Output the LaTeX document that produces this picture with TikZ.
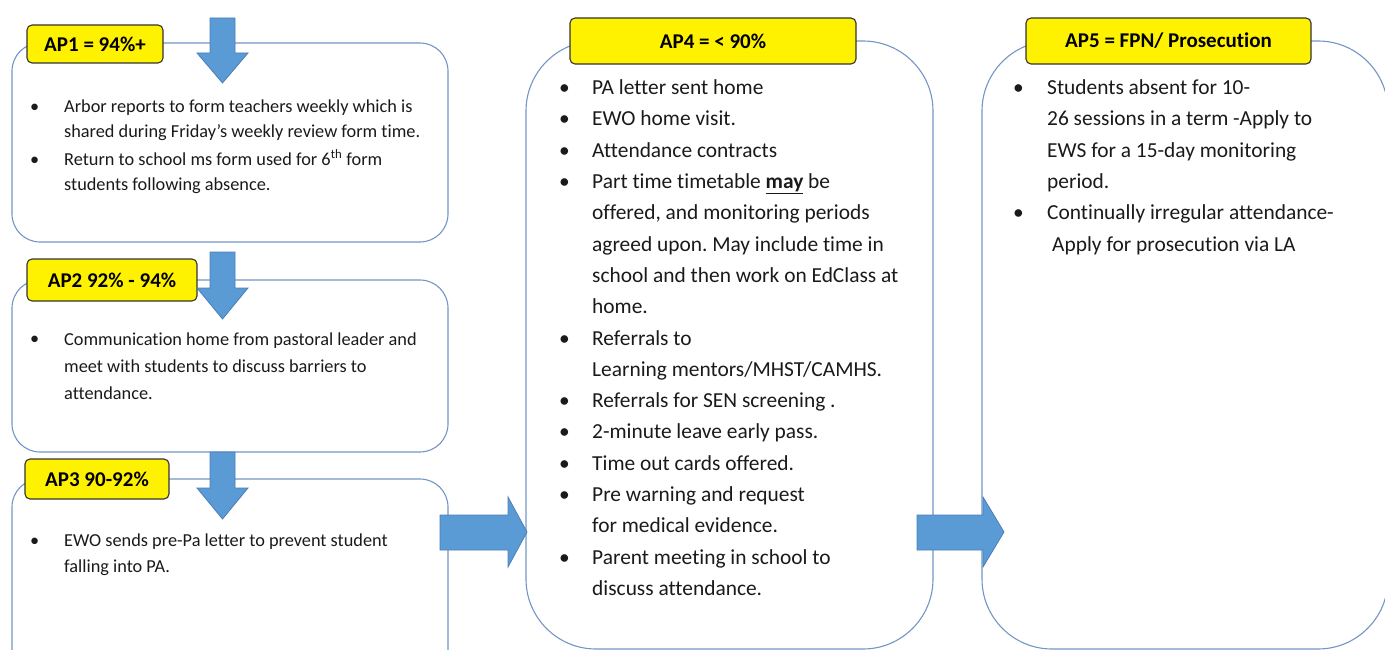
\documentclass[tikz,border=0pt]{standalone}
\usepackage{fontspec}
\setmainfont{Carlito}[Ligatures=NoCommon]
\definecolor{boxline}{HTML}{7395C5}
\definecolor{arrfill}{HTML}{5B9BD5}
\definecolor{arrline}{HTML}{4A7EBB}
\definecolor{txtc}{HTML}{1A1A1A}
\newcommand\labfont{\fontsize{21}{24}\selectfont\bfseries}
\newcommand\smallfont{\fontsize{18.3}{25.5}\selectfont}
\newcommand\bigfont{\fontsize{21.4}{31.3}\selectfont}
\frenchspacing
\begin{document}
\begin{tikzpicture}[x=1pt,y=-1pt,
  stagebox/.style={draw=boxline, line width=1.1pt, rounded corners=#1},
  aplabel/.style={draw=black!80, line width=1.1pt, fill=yellow, rounded corners=5pt,
                  font=\labfont, text=black, inner sep=0pt},
  bigarrow/.style={fill=arrfill, draw=arrline, line width=0.8pt},
  txt/.style={anchor=north west, align=left, inner sep=0pt, text=txtc},
]
\useasboundingbox (0,0) rectangle (1385,650);
\clip (0,0) rectangle (1385,650);

% stage boxes
\draw[stagebox=28pt] (12,43) rectangle (448,242);
\draw[stagebox=28pt] (12,280) rectangle (448,452);
\draw[stagebox=28pt] (12,479) rectangle (448,690);
\draw[stagebox=70pt] (526,41) rectangle (933,649);
\draw[stagebox=70pt] (982,41) rectangle (1388,649);

% labels
\node[aplabel, minimum width=136pt, minimum height=38pt] (ap1) at (95,44) {AP1 = 94\%+};
\node[aplabel, minimum width=170pt, minimum height=42pt] (ap2) at (112,280) {AP2 92\% - 94\%};
\node[aplabel, minimum width=144pt, minimum height=40pt] (ap3) at (97,479) {AP3 90-92\%};
\node[aplabel, minimum width=286pt, minimum height=46pt] (ap4) at (713,41) {AP4 = < 90\%};
\node[aplabel, minimum width=285pt, minimum height=46pt] (ap5) at (1168.5,41) {AP5 = FPN/ Prosecution};

% down arrows
\draw[bigarrow] (210,18) -- (235,18) -- (235,53) -- (248,53) -- (222.5,83) -- (197,53) -- (210,53) -- cycle;
\draw[bigarrow] (210,252) -- (235,252) -- (235,288) -- (248,288) -- (222.5,319) -- (197,288) -- (210,288) -- cycle;
\draw[bigarrow] (210,452) -- (235,452) -- (235,488) -- (248,488) -- (222.5,519) -- (197,488) -- (210,488) -- cycle;
% right arrows
\draw[bigarrow] (440,515) -- (508,515) -- (508,497) -- (527,532) -- (508,567) -- (508,550) -- (440,550) -- cycle;
\draw[bigarrow] (917,515) -- (983,515) -- (983,497) -- (1004,532) -- (983,567) -- (983,550) -- (917,550) -- cycle;

% box 1 text
\node[txt, font=\smallfont] (b1a) at (64,94) {\strut Arbor reports to form teachers weekly which is\\\strut shared during Friday’s weekly review form time.};
\node[txt, font=\smallfont] (b1b) at (64,147) {\strut Return to school ms form used for 6\textsuperscript{th} form\\\strut students following absence.};
\node[txt, font=\smallfont] (b1ba) at (30,94) {\strut\textbullet};
\node[txt, font=\smallfont] (b1bb) at (30,147) {\strut\textbullet};

% box 2 text
\node[txt, font=\fontsize{18.3}{27}\selectfont] (b2a) at (64,326) {\strut Communication home from pastoral leader and\\\strut meet with students to discuss barriers to\\\strut attendance.};
\node[txt, font=\smallfont] (b2ba) at (30,326) {\strut\textbullet};

% box 3 text
\node[txt, font=\fontsize{18.3}{26}\selectfont] (b3a) at (64,528) {\strut EWO sends pre-Pa letter to prevent student\\\strut falling into PA.};
\node[txt, font=\smallfont] (b3ba) at (30,528) {\strut\textbullet};

% box 4 text
\node[txt, font=\bigfont] (b4a) at (592,72.5) {\strut PA letter sent home\\\strut EWO home visit.\\\strut Attendance contracts\\\strut Part time timetable \underline{\textbf{may}} be\\\strut offered, and monitoring periods\\\strut agreed upon. May include time in\\\strut school and then work on EdClass at\\\strut home.\\\strut Referrals to\\\strut Learning mentors/MHST/CAMHS.\\\strut Referrals for SEN screening .\\\strut 2-minute leave early pass.\\\strut Time out cards offered.\\\strut Pre warning and request\\\strut for medical evidence.\\\strut Parent meeting in school to\\\strut discuss attendance.};
\node[txt, font=\bigfont] (b4b) at (559,72.5) {\strut\textbullet\\\strut\textbullet\\\strut\textbullet\\\strut\textbullet\\\strut\\\strut\\\strut\\\strut\\\strut\textbullet\\\strut\\\strut\textbullet\\\strut\textbullet\\\strut\textbullet\\\strut\textbullet\\\strut\\\strut\textbullet\\\strut};

% box 5 text
\node[txt, font=\bigfont] (b5a) at (1047,72.5) {\strut Students absent for 10-\\\strut 26 sessions in a term -Apply to\\\strut EWS for a 15-day monitoring\\\strut period.\\\strut Continually irregular attendance-\\\strut\hspace*{5pt}Apply for prosecution via LA};
\node[txt, font=\bigfont] (b5b) at (1013,72.5) {\strut\textbullet\\\strut\\\strut\\\strut\\\strut\textbullet\\\strut};
\end{tikzpicture}
\end{document}
